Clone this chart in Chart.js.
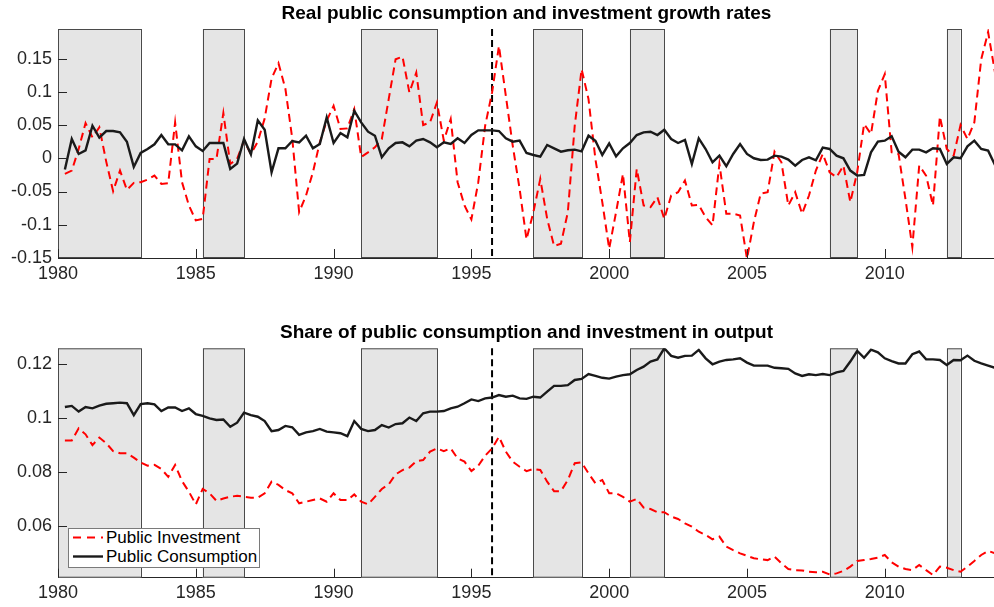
<!DOCTYPE html>
<html>
<head>
<meta charset="utf-8">
<script src="https://cdn.jsdelivr.net/npm/chart.js@4.4.0/dist/chart.umd.min.js"></script>
<style>
  body { margin: 0; width: 994px; height: 607px; overflow: hidden; background: #fff; position: relative; }
  canvas { position: absolute; left: 0; }
  #legend { position: absolute; left: 68px; top: 528px; width: 192px; height: 40px; box-sizing: border-box;
            border: 1px solid #7a7a7a; background: #fff; font: 17px "Liberation Sans", Arial, sans-serif; color: #000; }
  #legend .row { position: absolute; left: 4px; height: 19px; line-height: 19px; white-space: nowrap; }
  #legend svg { position: absolute; left: 0; top: 0; }
  #legend span { position: absolute; left: 33px; top: 0; }
</style>
</head>
<body>
<canvas id="growthChart" width="1053" height="290" style="top:0px"></canvas>
<canvas id="shareChart" width="1053" height="317" style="top:290px"></canvas>
<div id="legend">
  <div class="row" style="top:-1px"><svg width="30" height="19"><line x1="0" y1="9.5" x2="30" y2="9.5" stroke="#ff0000" stroke-width="2" stroke-dasharray="8,6"/></svg><span>Public Investment</span></div>
  <div class="row" style="top:18px"><svg width="30" height="19"><line x1="0" y1="9.5" x2="30" y2="9.5" stroke="#1a1a1a" stroke-width="2.4"/></svg><span>Public Consumption</span></div>
</div>
<script>
// quarterly observations, first one is 1980.25, one row per year (Q2..Q1 of next year)
const firstQuarter = 1980.25;

const investGrowth = [
  -0.0235, -0.0185, 0.014, 0.053,
  0.0315, 0.0465, -0.005, -0.0495,
  -0.0185, -0.0475, -0.037, -0.036,
  -0.032, -0.026, -0.0385, -0.0375,
  0.054, -0.036, -0.071, -0.0935,
  -0.091, -0.001, -0.001, 0.068,
  -0.0085, -0.001, 0.0265, 0.0065,
  0.025, 0.06, 0.12, 0.143,
  0.105, 0.03, -0.081, -0.056,
  -0.021, 0.024, 0.0565, 0.079,
  0.044, 0.045, 0.074, 0.002,
  0.009, 0.0165, 0.029, 0.089,
  0.149, 0.153, 0.099, 0.129,
  0.05, 0.054, 0.084, 0.0265,
  0.059, -0.036, -0.071, -0.092,
  -0.036, 0.049, 0.099, 0.169,
  0.094, 0.019, -0.046, -0.122,
  -0.081, -0.031, -0.091, -0.132,
  -0.1285, -0.081, 0.049, 0.134,
  0.089, -0.001, -0.066, -0.136,
  -0.081, -0.0235, -0.126, -0.016,
  -0.071, -0.0735, -0.0585, -0.091,
  -0.056, -0.051, -0.0335, -0.071,
  -0.07, -0.0885, -0.101, -0.0085,
  -0.0835, -0.0835, -0.086, -0.151,
  -0.096, -0.053, -0.051, 0.01,
  -0.006, -0.071, -0.051, -0.0835,
  -0.056, -0.0185, 0.0065, -0.021,
  -0.0285, -0.011, -0.066, -0.021,
  0.0515, 0.0365, 0.1015, 0.1265,
  0.009, 0.0065, -0.061, -0.1335,
  -0.011, -0.026, -0.071, 0.063,
  0.014, 0.004, 0.05, 0.029,
  0.054, 0.149, 0.19, 0.129
];

const consumGrowth = [
  -0.017, 0.029, 0.0065, 0.012,
  0.049, 0.031, 0.041, 0.041,
  0.039, 0.025, -0.013, 0.008,
  0.014, 0.021, 0.035, 0.021,
  0.021, 0.012, 0.033, 0.018,
  0.011, 0.023, 0.023, 0.023,
  -0.016, -0.008, 0.029, 0.006,
  0.057, 0.043, -0.021, 0.015,
  0.015, 0.026, 0.024, 0.034,
  0.015, 0.0215, 0.0615, 0.023,
  0.038, 0.0315, 0.0715, 0.054,
  0.04, 0.034, 0.0015, 0.015,
  0.023, 0.024, 0.018, 0.0265,
  0.029, 0.024, 0.0165, 0.024,
  0.0215, 0.03, 0.023, 0.035,
  0.042, 0.042, 0.042, 0.041,
  0.03, 0.025, 0.0265, 0.008,
  0.005, 0.0025, 0.02, 0.015,
  0.01, 0.012, 0.013, 0.0105,
  0.034, 0.0265, 0.005, 0.0225,
  0.003, 0.015, 0.023, 0.035,
  0.039, 0.04, 0.035, 0.043,
  0.029, 0.023, 0.0275, -0.0085,
  0.03, 0.014, -0.006, 0.004,
  -0.012, 0.0065, 0.0215, 0.0065,
  0, -0.0025, -0.002, 0.004,
  0.0025, -0.002, -0.011, -0.0025,
  0.0015, -0.003, 0.016, 0.014,
  0.004, 0, -0.0185, -0.026,
  -0.025, 0.009, 0.025, 0.0265,
  0.033, 0.01, 0.0015, 0.013,
  0.013, 0.009, 0.015, 0.014,
  -0.0085, 0.0015, 0, 0.018,
  0.0265, 0.014, 0.0115, -0.01
];

const investShare = [
  0.0917, 0.0917, 0.0962, 0.094,
  0.09, 0.0928, 0.0907, 0.0878,
  0.087, 0.087, 0.0854, 0.0836,
  0.0824, 0.0827, 0.0812, 0.0783,
  0.0827, 0.0767, 0.0728, 0.0681,
  0.0738, 0.0722, 0.0694, 0.0703,
  0.0709, 0.0713, 0.0709, 0.0706,
  0.0706, 0.0722, 0.0765, 0.0753,
  0.0734, 0.0722, 0.0685, 0.0691,
  0.0697, 0.0703, 0.0691, 0.0722,
  0.0697, 0.0697, 0.0718, 0.0691,
  0.0681, 0.0709, 0.0738, 0.0755,
  0.0792, 0.0808, 0.0817, 0.0841,
  0.0845, 0.0876, 0.0888, 0.0878,
  0.0888, 0.0851, 0.0839, 0.0804,
  0.0824, 0.0861, 0.0888, 0.0931,
  0.0876, 0.0839, 0.082, 0.0804,
  0.0812, 0.0808, 0.0765, 0.073,
  0.073, 0.0771, 0.0833, 0.0836,
  0.0796, 0.0759, 0.0771, 0.0722,
  0.0722, 0.0709, 0.0691, 0.0701,
  0.0669, 0.0664, 0.0652, 0.0652,
  0.0636, 0.0627, 0.0611, 0.0599,
  0.058, 0.0568, 0.0552, 0.0562,
  0.0525, 0.0512, 0.05, 0.0491,
  0.0482, 0.0478, 0.0475, 0.0488,
  0.0463, 0.0442, 0.0438, 0.0437,
  0.0432, 0.043, 0.0432, 0.0422,
  0.0426, 0.0435, 0.0451, 0.0472,
  0.0475, 0.0479, 0.0484, 0.0494,
  0.0467, 0.0451, 0.0442, 0.0438,
  0.0457, 0.0438, 0.042, 0.0451,
  0.0447, 0.0438, 0.0432, 0.0451,
  0.0472, 0.0494, 0.0509, 0.05
];

const consumShare = [
  0.1041, 0.1045, 0.1024, 0.1041,
  0.1036, 0.1046, 0.1053, 0.1055,
  0.1057, 0.1055, 0.1011, 0.1052,
  0.1055, 0.1051, 0.1026, 0.1039,
  0.1039, 0.1026, 0.1036, 0.1015,
  0.1008, 0.0999, 0.0993, 0.0995,
  0.0968, 0.0983, 0.102, 0.1011,
  0.1005, 0.0989, 0.0952, 0.0956,
  0.0971, 0.0966, 0.0938, 0.0947,
  0.0952, 0.096, 0.095, 0.0947,
  0.0944, 0.0933, 0.0989, 0.096,
  0.0952, 0.0956, 0.0974, 0.0965,
  0.0978, 0.0981, 0.1002, 0.0989,
  0.1018, 0.1024, 0.1024, 0.1026,
  0.1036, 0.1042, 0.1055, 0.1069,
  0.1063, 0.1073, 0.1076, 0.1085,
  0.1079, 0.1083, 0.1073, 0.1071,
  0.1079, 0.1076, 0.1098, 0.1119,
  0.1119, 0.1122, 0.1141, 0.1145,
  0.1163, 0.1156, 0.1149, 0.1146,
  0.1153, 0.1159, 0.1162, 0.1178,
  0.119, 0.1209, 0.1217, 0.1258,
  0.123, 0.1223, 0.123, 0.1231,
  0.1252, 0.1221, 0.1199, 0.1209,
  0.1215, 0.1217, 0.1221, 0.1205,
  0.1194, 0.1194, 0.1194, 0.1186,
  0.1184, 0.1182, 0.1165, 0.1156,
  0.1162, 0.1159, 0.1163, 0.1159,
  0.1169, 0.1174, 0.1209, 0.1248,
  0.1223, 0.1253, 0.1243, 0.1221,
  0.1211, 0.1202, 0.1202, 0.1236,
  0.1246, 0.1217, 0.1217, 0.1215,
  0.1196, 0.1215, 0.1214, 0.1231,
  0.1212, 0.1202, 0.1194, 0.1186
];

// shaded periods and the vertical break line
const recessionStart = [1980, 1985.25, 1991, 1997.25, 2000.75, 2008, 2012.25];
const recessionEnd   = [1983, 1986.75, 1993.75, 1999, 2002, 2009, 2012.75];
const breakYear = 1995.75;

const yearTicks = [1980, 1985, 1990, 1995, 2000, 2005, 2010];
const growthTicks = [-0.15, -0.1, -0.05, 0, 0.05, 0.1, 0.15];
const growthTickLabels = ['-0.15', '-0.1', '-0.05', '0', '0.05', '0.1', '0.15'];
const shareTicks = [0.06, 0.08, 0.1, 0.12];
const shareTickLabels = ['0.06', '0.08', '0.1', '0.12'];

const quarters = investGrowth.map((v, i) => firstQuarter + i * 0.25);
const FONT = '"Liberation Sans", Arial, Helvetica, sans-serif';

// recession boxes + dashed line behind the series, inward tick marks on top
const decorations = {
  id: 'decorations',
  beforeDatasetsDraw(chart) {
    const { ctx, chartArea: a, scales: { x } } = chart;
    ctx.save();
    ctx.fillStyle = '#e5e5e5';
    ctx.strokeStyle = '#4a4a4a';
    ctx.lineWidth = 1;
    recessionStart.forEach((s, i) => {
      const x0 = x.getPixelForValue(s);
      const x1 = x.getPixelForValue(recessionEnd[i]);
      ctx.fillRect(x0, a.top, x1 - x0, a.bottom - a.top);
      ctx.strokeRect(Math.round(x0) + 0.5, a.top + 0.5, Math.round(x1) - Math.round(x0), a.bottom - a.top - 1);
    });
    const bx = x.getPixelForValue(breakYear);
    ctx.setLineDash([7, 4]);
    ctx.lineWidth = 2;
    ctx.strokeStyle = '#000';
    ctx.beginPath();
    ctx.moveTo(bx, a.top);
    ctx.lineTo(bx, a.bottom);
    ctx.stroke();
    ctx.restore();
  },
  afterDatasetsDraw(chart) {
    const { ctx, chartArea: a, scales: { x, y } } = chart;
    ctx.save();
    ctx.strokeStyle = '#262626';
    ctx.lineWidth = 1;
    ctx.beginPath();
    yearTicks.forEach(v => {
      const px = Math.round(x.getPixelForValue(v)) + 0.5;
      ctx.moveTo(px, a.bottom);
      ctx.lineTo(px, a.bottom - 9);
    });
    y.ticks.forEach(t => {
      const py = Math.round(y.getPixelForValue(t.value)) + 0.5;
      ctx.moveTo(a.left, py);
      ctx.lineTo(a.left + 9, py);
    });
    ctx.stroke();
    ctx.restore();
  }
};

function makePanel(id, title, titlePad, invest, consum, yMin, yMax, yTicks, yLabels, xHeight) {
  return new Chart(document.getElementById(id), {
    type: 'line',
    data: {
      datasets: [
        {
          label: 'Public Investment',
          data: quarters.map((q, i) => ({ x: q, y: invest[i] })),
          borderColor: '#ff0000',
          borderWidth: 2,
          borderDash: [8, 5],
          pointRadius: 0,
          tension: 0,
          order: 2
        },
        {
          label: 'Public Consumption',
          data: quarters.map((q, i) => ({ x: q, y: consum[i] })),
          borderColor: '#1a1a1a',
          borderWidth: 2.4,
          pointRadius: 0,
          tension: 0,
          order: 1
        }
      ]
    },
    options: {
      responsive: false,
      devicePixelRatio: 1,
      animation: false,
      layout: { padding: 0, autoPadding: false },
      plugins: {
        legend: { display: false },
        tooltip: { enabled: false },
        title: {
          display: true,
          text: title,
          color: '#000',
          font: { family: FONT, size: 19, weight: 'bold' },
          padding: titlePad
        }
      },
      scales: {
        x: {
          type: 'linear',
          min: 1980,
          max: 2014,
          afterBuildTicks: s => { s.ticks = yearTicks.map(v => ({ value: v })); },
          afterFit: s => { s.height = xHeight; },
          ticks: {
            autoSkip: false, maxRotation: 0, padding: 5, color: '#262626',
            font: { family: FONT, size: 18 },
            callback: v => String(v)
          },
          grid: { display: false, drawTicks: false },
          border: { display: true, color: '#262626', width: 1 }
        },
        y: {
          min: yMin,
          max: yMax,
          afterBuildTicks: s => { s.ticks = yTicks.map(v => ({ value: v })); },
          afterFit: s => { s.width = 58; },
          ticks: {
            padding: 6, color: '#262626',
            font: { family: FONT, size: 18 },
            callback: (v, i) => yLabels[i]
          },
          grid: { display: false, drawTicks: false },
          border: { display: true, color: '#262626', width: 1 }
        },
        // empty axis on the right so the title centres over the plot box
        yRight: {
          position: 'right',
          ticks: { display: false },
          grid: { display: false, drawTicks: false },
          border: { display: false },
          afterFit: s => { s.width = 58; }
        }
      }
    },
    plugins: [decorations]
  });
}

makePanel('growthChart', 'Real public consumption and investment growth rates', { top: 2, bottom: 4.2 },
  investGrowth, consumGrowth, -0.15, 0.1945, growthTicks, growthTickLabels, 32);
makePanel('shareChart', 'Share of public consumption and investment in output', { top: 31.6, bottom: 3.9 },
  investShare, consumShare, 0.041, 0.1258, shareTicks, shareTickLabels, 29.3);
</script>
</body>
</html>
